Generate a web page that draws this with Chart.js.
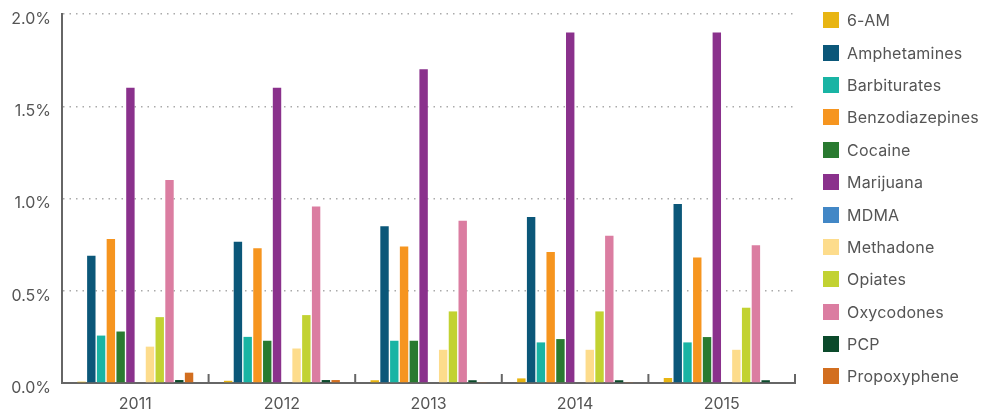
<!DOCTYPE html>
<html>
<head>
<meta charset="utf-8">
<script src="https://cdn.jsdelivr.net/npm/chart.js@4.4.1/dist/chart.umd.min.js"></script>
<style>
    body { margin: 0; background: #fff; overflow: hidden; }
    #wrap { position: relative; width: 985px; height: 417px; overflow: hidden; }
    #legend { position: absolute; left: 823px; top: 4px; font-family: Inter, "Noto Sans", sans-serif; font-size: 16px; letter-spacing: 0.2px; color: #555; white-space: nowrap; }
    .item { height: 32.4px; display: flex; align-items: center; }
    .box { width: 16px; height: 16px; margin-right: 8px; flex: none; }
</style>
</head>
<body>
<div id="wrap">
    <canvas id="drug-chart" width="985" height="417"></canvas>
    <div id="legend"></div>
</div>
<script>
// 年份
const years = ['2011', '2012', '2013', '2014', '2015'];
// 各药物阳性率 (%)
const sixAM = [0.007, 0.012, 0.015, 0.025, 0.027];
const amphetamines = [0.69, 0.765, 0.85, 0.90, 0.97];
const barbiturates = [0.257, 0.25, 0.229, 0.22, 0.22];
const benzodiazepines = [0.78, 0.73, 0.74, 0.71, 0.68];
const cocaine = [0.279, 0.229, 0.229, 0.238, 0.249];
const marijuana = [1.60, 1.60, 1.70, 1.90, 1.90];
const mdma = [0, 0, 0, 0, 0];
const methadone = [0.197, 0.187, 0.18, 0.18, 0.18];
const opiates = [0.357, 0.368, 0.388, 0.388, 0.408];
const oxycodones = [1.10, 0.957, 0.879, 0.798, 0.747];
const pcp = [0.016, 0.016, 0.015, 0.015, 0.015];
const propoxyphene = [0.056, 0.016, 0.005, 0.005, 0];
const yTicks = [0, 0.5, 1.0, 1.5, 2.0];

const series = [
    ['6-AM', sixAM, '#e8b512'],
    ['Amphetamines', amphetamines, '#0b5779'],
    ['Barbiturates', barbiturates, '#19b4a4'],
    ['Benzodiazepines', benzodiazepines, '#f6951f'],
    ['Cocaine', cocaine, '#297a30'],
    ['Marijuana', marijuana, '#8a318c'],
    ['MDMA', mdma, '#4287c6'],
    ['Methadone', methadone, '#fddc8c'],
    ['Opiates', opiates, '#c2d232'],
    ['Oxycodones', oxycodones, '#db7da1'],
    ['PCP', pcp, '#0b4a2b'],
    ['Propoxyphene', propoxyphene, '#d26e1f']
];

const FONT = { family: 'Inter, "Noto Sans", sans-serif', size: 16 };

// x轴上的向上刻度
const upTicks = {
    id: 'upTicks',
    afterDraw(chart) {
        const x = chart.scales.x;
        const ctx = chart.ctx;
        const step = (x.right - x.left) / years.length;
        ctx.save();
        ctx.strokeStyle = '#666';
        ctx.lineWidth = 2;
        for (let i = 1; i <= years.length; i++) {
            const px = x.left + i * step;
            ctx.beginPath();
            ctx.moveTo(px, x.top);
            ctx.lineTo(px, x.top - 9);
            ctx.stroke();
        }
        ctx.restore();
    }
};

const ctx = document.getElementById('drug-chart').getContext('2d');
const chart = new Chart(ctx, {
    type: 'bar',
    data: {
        labels: years,
        datasets: series.map(s => ({
            label: s[0],
            data: s[1],
            backgroundColor: s[2],
            borderWidth: 0,
            categoryPercentage: 0.8,
            barPercentage: 0.86
        }))
    },
    options: {
        responsive: false,
        animation: false,
        layout: { padding: { left: 0, right: 190, top: 14, bottom: 0 } },
        plugins: {
            legend: { display: false },
            tooltip: { enabled: false }
        },
        scales: {
            x: {
                grid: { display: false, drawTicks: false },
                border: { display: true, color: '#666', width: 2 },
                ticks: { color: '#555', font: FONT, padding: 12 },
                afterFit(scale) { scale.height = 34; }
            },
            y: {
                min: 0,
                max: 2.0,
                afterBuildTicks(scale) { scale.ticks = yTicks.map(v => ({ value: v })); },
                grid: { color: '#aaa', lineWidth: 1.5, drawTicks: false },
                border: { display: true, color: '#666', width: 2, dash: [1.5, 5] },
                ticks: {
                    color: '#555',
                    font: FONT,
                    padding: 11,
                    labelOffset: 5,
                    callback: v => v.toFixed(1) + '%'
                },
                afterFit(scale) {
                    scale.width = 62;
                    scale.paddingTop = 0;
                    scale.paddingBottom = 0;
                }
            }
        }
    },
    plugins: [upTicks]
});

// 图例
const legendEl = document.getElementById('legend');
series.forEach(s => {
    const row = document.createElement('div');
    row.className = 'item';
    row.innerHTML = '<span class="box" style="background:' + s[2] + '"></span><span>' + s[0] + '</span>';
    legendEl.appendChild(row);
});
</script>
</body>
</html>
